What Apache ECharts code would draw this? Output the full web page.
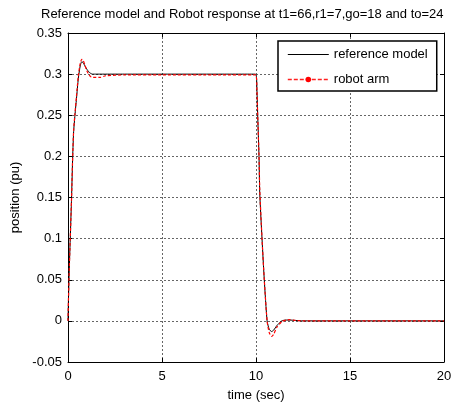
<!DOCTYPE html>
<html>
<head>
<meta charset="utf-8">
<script src="https://cdn.jsdelivr.net/npm/echarts@6/dist/echarts.min.js"></script>
<style>html,body{margin:0;padding:0;background:#fff;}#c{width:467px;height:409px;}</style>
</head>
<body>
<div id="c"></div>
<script>
var titleText = "Reference model and Robot response at t1=66,r1=7,go=18 and to=24";
var xName = "time (sec)";
var yName = "position (pu)";
var seriesNames = ["reference model", "robot arm"];
var xTicks = [0, 5, 10, 15, 20];
var yTicks = [-0.05, 0, 0.05, 0.1, 0.15, 0.2, 0.25, 0.3, 0.35];

var time = [0, 0.05, 0.12, 0.19, 0.25, 0.3, 0.37, 0.45, 0.55, 0.65, 0.73, 0.8, 0.9, 1.0, 1.1, 1.2, 1.3, 1.5, 1.7, 2.0, 3, 5, 8, 9.98, 10.05, 10.09, 10.16, 10.2, 10.32, 10.44, 10.59, 10.7, 10.83, 10.95, 11.1, 11.37, 11.6, 11.8, 12.1, 12.5, 15, 20];
var refModel = [0, 0.05, 0.1, 0.15, 0.2, 0.23, 0.25, 0.27, 0.295, 0.31, 0.315, 0.314, 0.31, 0.306, 0.303, 0.301, 0.3, 0.3, 0.3, 0.3, 0.3, 0.3, 0.3, 0.3, 0.28, 0.25, 0.2, 0.155, 0.1, 0.05, 0, -0.01, -0.013, -0.011, -0.006, 0, 0.001, 0.001, 0.0005, 0, 0, 0];
var robotArm = [0, 0.05, 0.1, 0.15, 0.2, 0.232, 0.252, 0.273, 0.298, 0.313, 0.318, 0.317, 0.311, 0.304, 0.3, 0.297, 0.296, 0.296, 0.296, 0.298, 0.299, 0.299, 0.299, 0.299, 0.28, 0.25, 0.2, 0.16, 0.1, 0.05, 0, -0.014, -0.019, -0.016, -0.008, -0.001, 0.001, 0.0015, 0.0005, 0, 0, 0];

function pairs(xs, ys) { return xs.map(function (x, i) { return [x, ys[i]]; }); }

var FONT = "Liberation Sans, Arial, sans-serif";
var chart = echarts.init(document.getElementById('c'), null, {renderer: 'canvas'});
var axisCommon = {
  axisLine: {show: true, onZero: false, lineStyle: {color: '#000', width: 1}},
  axisTick: {show: true, inside: true, length: 4, lineStyle: {color: '#000'}},
};
chart.setOption({
  backgroundColor: '#fff',
  animation: false,
  title: {
    text: titleText, left: 36, top: 3,
    textStyle: {fontFamily: FONT, fontSize: 13, fontWeight: 'normal', color: '#000'}
  },
  legend: {
    orient: 'vertical', left: 278, top: 41,
    padding: [6, 9, 4, 9], itemGap: 10, itemWidth: 41, itemHeight: 7,
    borderColor: '#000', borderWidth: 1.5, backgroundColor: '#fff',
    textStyle: {fontFamily: FONT, fontSize: 13, color: '#000', lineHeight: 15},
    data: [
      {name: seriesNames[0], itemStyle: {color: 'rgba(0,0,0,0)', opacity: 0, borderWidth: 0},
       lineStyle: {color: '#000', width: 1, type: 'solid'}},
      {name: seriesNames[1], itemStyle: {color: '#ff0000', borderColor: '#ff0000', borderWidth: 0},
       lineStyle: {color: '#ff2020', width: 1.6, type: [4, 2]}}
    ]
  },
  grid: {left: 68, right: 23, top: 33, bottom: 47, containLabel: false},
  xAxis: [Object.assign({
    type: 'value', min: xTicks[0], max: xTicks[xTicks.length - 1], interval: 5,
    name: xName, nameLocation: 'middle', nameGap: 27,
    nameTextStyle: {fontFamily: FONT, fontSize: 13, color: '#000'},
    axisLabel: {fontFamily: FONT, fontSize: 13, color: '#000', margin: 8},
    splitLine: {show: true, lineStyle: {color: '#666', type: [2, 2], width: 1}}
  }, axisCommon), Object.assign({
    type: 'value', position: 'top', min: xTicks[0], max: xTicks[xTicks.length - 1], interval: 5,
    axisLabel: {show: false}, splitLine: {show: false}
  }, axisCommon)],
  yAxis: [Object.assign({
    type: 'value', min: yTicks[0], max: yTicks[yTicks.length - 1], interval: 0.05,
    name: yName, nameLocation: 'middle', nameGap: 36,
    nameTextStyle: {fontFamily: FONT, fontSize: 13, color: '#000'},
    axisLabel: {fontFamily: FONT, fontSize: 13, color: '#000', margin: 6,
      formatter: function (v) { return String(parseFloat(v.toFixed(2))); }},
    splitLine: {show: true, lineStyle: {color: '#666', type: [2, 2], width: 1}}
  }, axisCommon), Object.assign({
    type: 'value', position: 'right', min: yTicks[0], max: yTicks[yTicks.length - 1], interval: 0.05,
    axisLabel: {show: false}, splitLine: {show: false}
  }, axisCommon)],
  series: [
    {
      name: seriesNames[0], type: 'line', data: pairs(time, refModel),
      symbol: 'none', smooth: 0.2,
      lineStyle: {color: '#000', width: 1}, itemStyle: {color: '#000'}, z: 2
    },
    {
      name: seriesNames[1], type: 'line', data: pairs(time, robotArm),
      symbol: 'circle', symbolSize: 6, showSymbol: false, smooth: 0.2,
      lineStyle: {color: '#ff0000', width: 1.2, type: [3, 2]}, itemStyle: {color: '#ff0000'}, z: 3
    }
  ]
});
</script>
</body>
</html>
